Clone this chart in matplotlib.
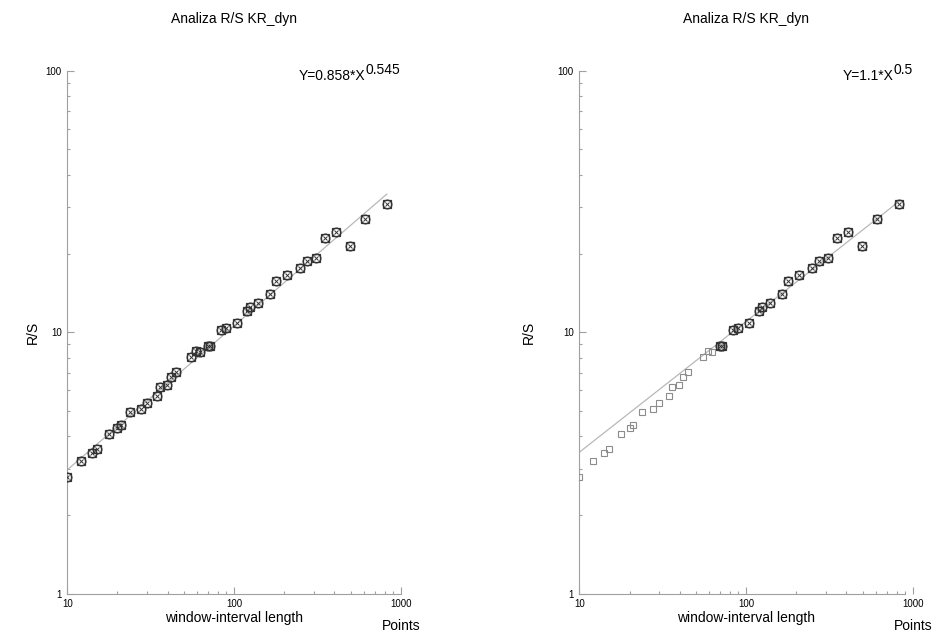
import numpy as np
import matplotlib.pyplot as plt
from matplotlib.ticker import LogLocator, FixedLocator, NullFormatter

plt.rcParams['font.family'] = ['Liberation Sans', 'DejaVu Sans']

# window-interval length and R/S values
window = [10.0, 12.0, 14.0, 15.1, 17.9, 20.0, 20.9, 23.9, 27.7, 29.9,
          34.7, 35.8, 39.8, 41.9, 44.7, 55.5, 59.4, 62.8, 69.5, 71.4,
          83.2, 89.5, 104, 119, 125, 139, 164, 178, 207, 248,
          275, 309, 353, 410, 494, 614, 824]
rs = [2.79, 3.22, 3.46, 3.58, 4.08, 4.32, 4.41, 4.96, 5.11, 5.35,
      5.73, 6.16, 6.29, 6.73, 7.05, 8.05, 8.46, 8.39, 8.87, 8.84,
      10.24, 10.36, 10.82, 12.02, 12.46, 12.9, 14.0, 15.7, 16.6, 17.6,
      18.7, 19.2, 23.0, 24.1, 21.4, 27.0, 31.0]

# fitted lines as drawn: (coefficient, exponent, x start, x end)
fit_left = (0.840, 0.550, 10, 824)
fit_right = (1.10, 0.50, 10, 830)
eq_left = ('Y=0.858*X', '0.545')
eq_right = ('Y=1.1*X', '0.5')
fit_min_right = 65  # window lengths used in the right-hand fit

title = 'Analiza R/S KR_dyn'

x = np.array(window)
y = np.array(rs)

fig = plt.figure(figsize=(9.4, 6.33), dpi=100)
ax1 = fig.add_axes([0.0716, 0.0618, 0.3547, 0.8265])
ax2 = fig.add_axes([0.6163, 0.0618, 0.3547, 0.8265])

grey = '#a0a0a0'


def black_marks(ax, xs, ys):
    ax.plot(xs, ys, 's', ms=5.5, mfc='none', mec='#333333', mew=0.9, zorder=3)
    ax.plot(xs, ys, 'o', ms=6.2, mfc='none', mec='#333333', mew=1.0, zorder=4)
    ax.plot(xs, ys, 'x', ms=3.0, mec='#333333', mew=0.7, zorder=5)


def style(ax, eq, fit, xend, eq_x, ylab_x):
    ax.set_xscale('log')
    ax.set_yscale('log')
    ax.set_xlim(10, 1000)
    ax.set_ylim(1, 100)
    for s in ['top', 'right']:
        ax.spines[s].set_visible(False)
    for s in ['left', 'bottom']:
        ax.spines[s].set_color(grey)
        ax.spines[s].set_linewidth(0.8)
    ax.spines['bottom'].set_bounds(10, xend)
    ax.xaxis.set_major_locator(FixedLocator([10, 100, 1000]))
    ax.yaxis.set_major_locator(FixedLocator([1, 10, 100]))
    minors = [v for v in LogLocator(subs=np.arange(2, 10)).tick_values(10, 1000)
              if 10 < v <= xend]
    ax.xaxis.set_minor_locator(FixedLocator(minors))
    ax.yaxis.set_minor_locator(LogLocator(subs=np.arange(2, 10)))
    ax.xaxis.set_minor_formatter(NullFormatter())
    ax.yaxis.set_minor_formatter(NullFormatter())
    ax.set_xticklabels(['10', '100', '1000'])
    ax.set_yticklabels(['1', '10', '100'])
    ax.tick_params(which='major', direction='in', length=5, width=0.8, color=grey,
                   labelsize=7, pad=4)
    ax.tick_params(which='minor', direction='in', length=2.5, width=0.8, color=grey)
    ax.set_xlabel('window-interval length', fontsize=10, labelpad=1)
    ax.set_ylabel('R/S', fontsize=10)
    ax.yaxis.set_label_coords(ylab_x, 0.5)
    ax.set_title(title, fontsize=10, pad=34)
    base = ax.text(eq_x, 0.99, eq[0], transform=ax.transAxes, ha='right',
                   va='center', fontsize=10)
    ax.annotate(eq[1], xy=(1.0, 0.45), xycoords=base, ha='left', va='bottom',
                fontsize=10)
    ax.text(1.0, -0.062, 'Points', transform=ax.transAxes, ha='center',
            va='center', fontsize=10)
    a, b, x0, x1 = fit
    xl = np.array([x0, x1])
    ax.plot(xl, a * xl ** b, color='#b8b8b8', lw=0.9, zorder=2)


style(ax1, eq_left, fit_left, 1000, 0.893, -0.082)
black_marks(ax1, x, y)

style(ax2, eq_right, fit_right, 900, 0.941, -0.130)
used = x >= fit_min_right
ax2.plot(x[~used], y[~used], 's', ms=5, mfc='none', mec='#8c8c8c', mew=0.8, zorder=3)
black_marks(ax2, x[used], y[used])

fig.savefig('out.png', dpi=100)
